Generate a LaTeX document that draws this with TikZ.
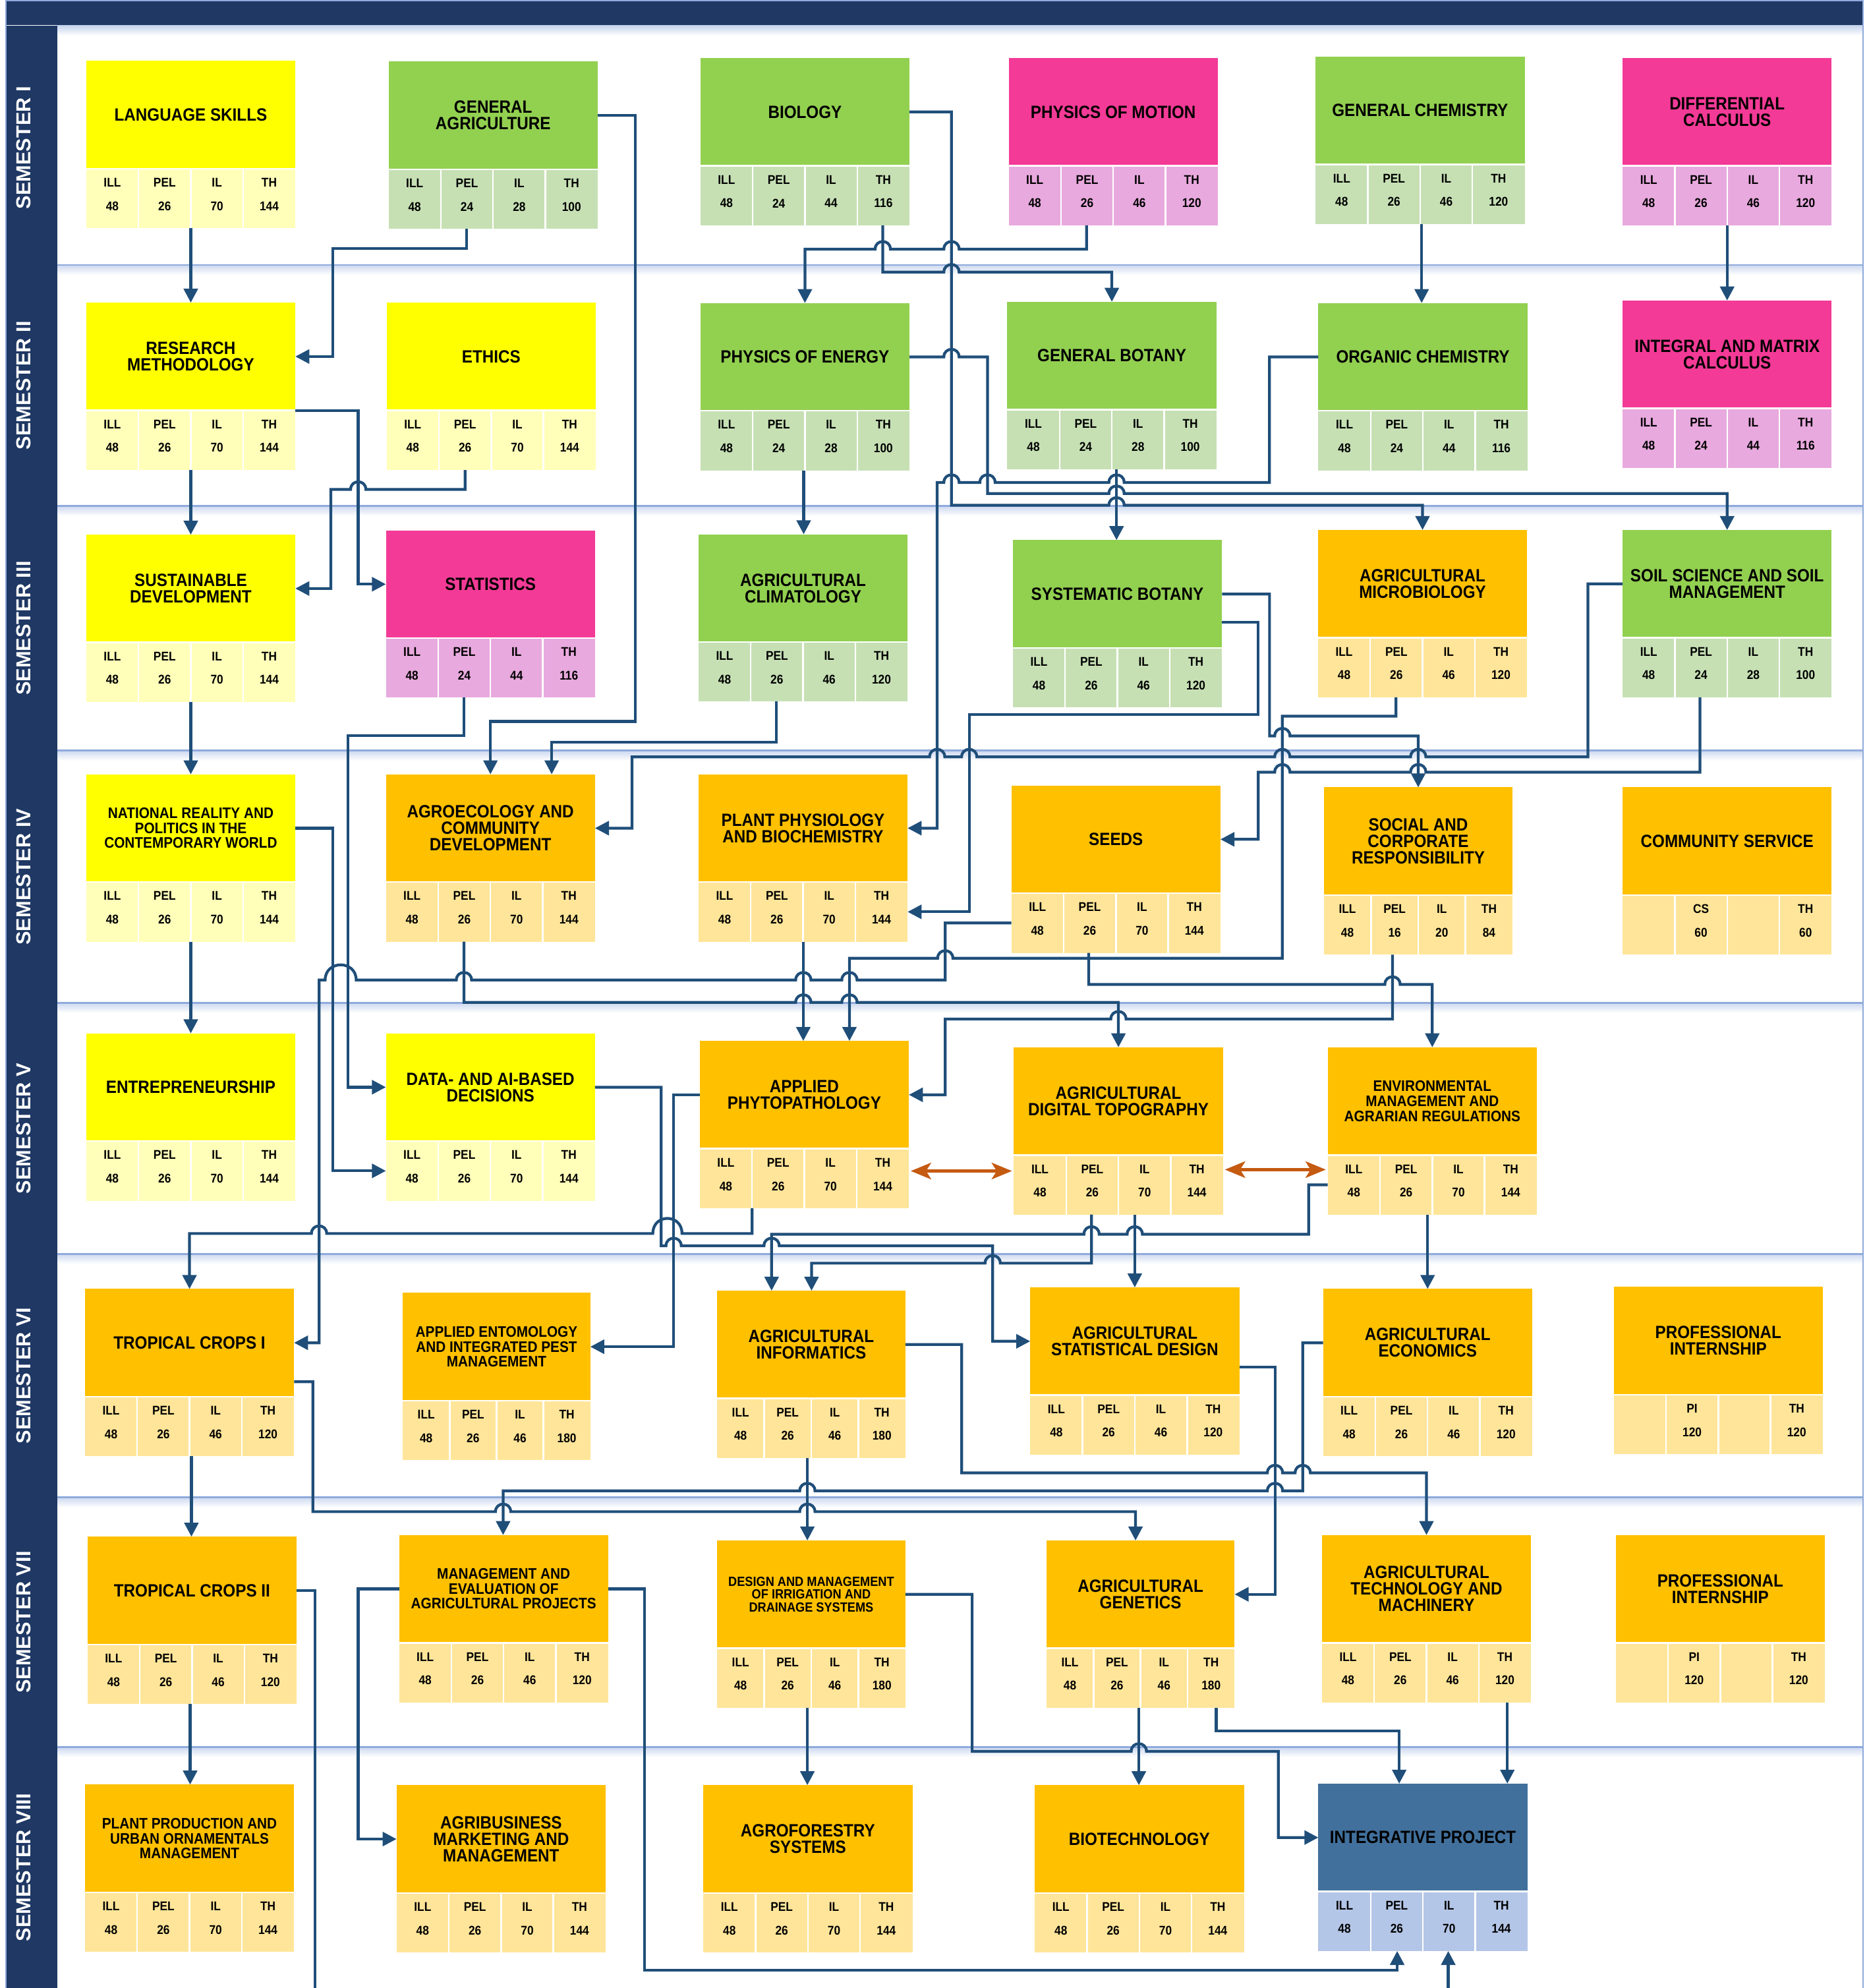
\documentclass[tikz,border=0pt]{standalone}
\usepackage{fontspec}
\setmainfont{Liberation Sans}[FakeStretch=0.9]
\newfontfamily\semfont{Liberation Sans}
\usetikzlibrary{arrows.meta,calc}
\definecolor{navy}{HTML}{1F3864}
\definecolor{lc}{HTML}{1F4E79}
\definecolor{orar}{HTML}{C55A11}
\definecolor{divl}{HTML}{8FAADC}
\definecolor{yT}{HTML}{FFFF00}\definecolor{yC}{HTML}{FFFFB9}
\definecolor{gT}{HTML}{92D050}\definecolor{gC}{HTML}{C6E0B4}
\definecolor{pT}{HTML}{F33A96}\definecolor{pC}{HTML}{E8A9DE}
\definecolor{oT}{HTML}{FFC000}\definecolor{oC}{HTML}{FFE599}
\definecolor{bT}{HTML}{41709C}\definecolor{bC}{HTML}{B4C6E7}
\newcommand\tfA{\bfseries\fontsize{14}{13}\selectfont}
\newcommand\tfB{\bfseries\fontsize{12}{11.7}\selectfont}
\newcommand\tfC{\bfseries\fontsize{10.5}{10.2}\selectfont}
\tikzset{
  ttl/.style={rectangle, inner sep=2pt, outer sep=0pt, minimum height=85pt, align=center, text=black},
  cellbg/.style={rectangle, inner sep=0pt, outer sep=0pt, minimum height=47pt},
  sepl/.style={draw=white, line width=1.3pt},
  clab/.style={inner sep=0pt, font=\bfseries\fontsize{10}{10}\selectfont, text=black},
  sem/.style={rotate=90, text=white, font=\semfont\bfseries\fontsize{16}{16}\selectfont},
  conn/.style={draw=lc, line width=2.2pt, -{Triangle[length=11pt,width=11pt]}},
  oconn/.style={draw=orar, line width=2.5pt, {Stealth[length=16pt,width=13pt,inset=4pt]}-{Stealth[length=16pt,width=13pt,inset=4pt]}, shorten <=1.5pt, shorten >=1.5pt}
}
% course box: name, x-left, y-top, width, scheme, font, title
\newcommand\course[7]{%
  \def\curbx{#2}\def\curby{#3}\def\curbw{#4}%
  \node[ttl, fill=#5T, minimum width=#4pt, anchor=north west, font=#6] (#1) at (#2,#3) {#7};
  \node[cellbg, fill=#5C, minimum width=#4pt, anchor=north west] (#1c) at (#1.south west) {};
  \draw[sepl] (#1c.north west) -- (#1c.north east);
  \foreach \k in {0.25,0.5,0.75} \draw[sepl] ($(#1c.north west)!\k!(#1c.north east)$) -- ($(#1c.south west)!\k!(#1c.south east)$);
}
\newcommand\celltx[4]{%
  \node[clab] (#1-l#2) at ({\curbx+\curbw*(2*#2-1)/8},{\curby+96}) {#3};
  \node[clab] (#1-v#2) at ({\curbx+\curbw*(2*#2-1)/8},{\curby+114.5}) {#4};}
\newcommand\cellsv[5]{\celltx{#1}{1}{ILL}{#2}\celltx{#1}{2}{PEL}{#3}\celltx{#1}{3}{IL}{#4}\celltx{#1}{4}{TH}{#5}}
\newcommand\cellsx[4]{\celltx{#1}{2}{#2}{#3}\celltx{#1}{4}{TH}{#4}}
% line hops (bump upward) on horizontal segments
\newcommand\hopR[2]{-- ({#1-6},#2) .. controls ({#1-6},{#2-8}) and ({#1+6},{#2-8}) .. ({#1+6},#2)}
\newcommand\hopL[2]{-- ({#1+6},#2) .. controls ({#1+6},{#2-8}) and ({#1-6},{#2-8}) .. ({#1-6},#2)}
\begin{document}
\begin{tikzpicture}[x=1pt,y=-1pt]
\useasboundingbox (0,0) rectangle (1474,1568);
\begin{scope}
\clip (0,0) rectangle (1474,1568);
\fill[white] (0,0) rectangle (1474,1568);
% frame
\shade[top color=divl!55, bottom color=white] (45,19.5) rectangle (1469,28);
\foreach \yy in {209,399,592,791,989,1181,1378} {
  \shade[top color=divl!45, bottom color=white] (45,\yy) rectangle (1469,\yy+8);
  \draw[divl, line width=1.5pt] (45,\yy) -- (1469,\yy);
}
\fill[navy] (5,1) rectangle (1469,19.5);
\fill[navy] (5,20.5) rectangle (45,1568);
\draw[divl, line width=1pt] (4.5,1568) -- (4.5,0.5) -- (1469.5,0.5) -- (1469.5,1568);
\node[sem] (sem1) at (18.5,116.5) {SEMESTER I};
\node[sem] (sem2) at (18.5,304) {SEMESTER II};
\node[sem] (sem3) at (18.5,495.5) {SEMESTER III};
\node[sem] (sem4) at (18.5,691.5) {SEMESTER IV};
\node[sem] (sem5) at (18.5,890) {SEMESTER V};
\node[sem] (sem6) at (18.5,1085) {SEMESTER VI};
\node[sem] (sem7) at (18.5,1279.5) {SEMESTER VII};
\node[sem] (sem8) at (18.5,1473) {SEMESTER VIII};
% ---- Semester I
\course{ls}{68}{48}{165}{y}{\tfA}{LANGUAGE SKILLS}\cellsv{ls}{48}{26}{70}{144}
\course{ga}{306.5}{48.6}{165}{g}{\tfA}{GENERAL\\AGRICULTURE}\cellsv{ga}{48}{24}{28}{100}
\course{bio}{552.5}{45.8}{165}{g}{\tfA}{BIOLOGY}\cellsv{bio}{48}{24}{44}{116}
\course{pom}{795.7}{45.8}{165}{p}{\tfA}{PHYSICS OF MOTION}\cellsv{pom}{48}{26}{46}{120}
\course{gch}{1037.8}{44.7}{165}{g}{\tfA}{GENERAL CHEMISTRY}\cellsv{gch}{48}{26}{46}{120}
\course{dc}{1280}{45.8}{165}{p}{\tfA}{DIFFERENTIAL\\CALCULUS}\cellsv{dc}{48}{26}{46}{120}
% ---- Semester II
\course{rm}{68}{238.7}{165}{y}{\tfA}{RESEARCH\\METHODOLOGY}\cellsv{rm}{48}{26}{70}{144}
\course{eth}{305}{238.7}{165}{y}{\tfA}{ETHICS}\cellsv{eth}{48}{26}{70}{144}
\course{poe}{552.5}{239}{165}{g}{\tfA}{PHYSICS OF ENERGY}\cellsv{poe}{48}{24}{28}{100}
\course{gb}{794.6}{238}{165}{g}{\tfA}{GENERAL BOTANY}\cellsv{gb}{48}{24}{28}{100}
\course{och}{1040}{239}{165}{g}{\tfA}{ORGANIC CHEMISTRY}\cellsv{och}{48}{24}{44}{116}
\course{imc}{1280}{237}{165}{p}{\tfA}{INTEGRAL AND MATRIX\\CALCULUS}\cellsv{imc}{48}{24}{44}{116}
% ---- Semester III
\course{sd}{68}{421.7}{165}{y}{\tfA}{SUSTAINABLE\\DEVELOPMENT}\cellsv{sd}{48}{26}{70}{144}
\course{stat}{304.4}{418.3}{165}{p}{\tfA}{STATISTICS}\cellsv{stat}{48}{24}{44}{116}
\course{acl}{551}{421.4}{165}{g}{\tfA}{AGRICULTURAL\\CLIMATOLOGY}\cellsv{acl}{48}{26}{46}{120}
\course{sb}{799}{426}{165}{g}{\tfA}{SYSTEMATIC BOTANY}\cellsv{sb}{48}{26}{46}{120}
\course{amb}{1039.7}{418}{165}{o}{\tfA}{AGRICULTURAL\\MICROBIOLOGY}\cellsv{amb}{48}{26}{46}{120}
\course{soil}{1280}{418}{165}{g}{\tfA}{SOIL SCIENCE AND SOIL\\MANAGEMENT}\cellsv{soil}{48}{24}{28}{100}
% ---- Semester IV
\course{nr}{68}{610.7}{165}{y}{\tfB}{NATIONAL REALITY AND\\POLITICS IN THE\\CONTEMPORARY WORLD}\cellsv{nr}{48}{26}{70}{144}
\course{agro}{304.4}{610.7}{165}{o}{\tfA}{AGROECOLOGY AND\\COMMUNITY\\DEVELOPMENT}\cellsv{agro}{48}{26}{70}{144}
\course{pp}{551}{610.7}{165}{o}{\tfA}{PLANT PHYSIOLOGY\\AND BIOCHEMISTRY}\cellsv{pp}{48}{26}{70}{144}
\course{seeds}{797.8}{619.5}{165}{o}{\tfA}{SEEDS}\cellsv{seeds}{48}{26}{70}{144}
\course{scr}{1044.3}{621}{149}{o}{\tfA}{SOCIAL AND\\CORPORATE\\RESPONSIBILITY}\cellsv{scr}{48}{16}{20}{84}
\course{cs}{1280}{621}{165}{o}{\tfA}{COMMUNITY SERVICE}\cellsx{cs}{CS}{60}{60}
% ---- Semester V
\course{ent}{68}{815}{165}{y}{\tfA}{ENTREPRENEURSHIP}\cellsv{ent}{48}{26}{70}{144}
\course{data}{304.4}{815}{165}{y}{\tfA}{DATA- AND AI-BASED\\DECISIONS}\cellsv{data}{48}{26}{70}{144}
\course{aph}{552}{821}{165}{o}{\tfA}{APPLIED\\PHYTOPATHOLOGY}\cellsv{aph}{48}{26}{70}{144}
\course{adt}{799.8}{826}{165}{o}{\tfA}{AGRICULTURAL\\DIGITAL TOPOGRAPHY}\cellsv{adt}{48}{26}{70}{144}
\course{env}{1047.4}{826}{165}{o}{\tfB}{ENVIRONMENTAL\\MANAGEMENT AND\\AGRARIAN REGULATIONS}\cellsv{env}{48}{26}{70}{144}
% ---- Semester VI
\course{tc1}{67}{1016.6}{165}{o}{\tfA}{TROPICAL CROPS I}\cellsv{tc1}{48}{26}{46}{120}
\course{aent}{317.7}{1019.7}{148}{o}{\tfB}{APPLIED ENTOMOLOGY\\AND INTEGRATED PEST\\MANAGEMENT}\cellsv{aent}{48}{26}{46}{180}
\course{ainf}{565.6}{1018}{148.7}{o}{\tfA}{AGRICULTURAL\\INFORMATICS}\cellsv{ainf}{48}{26}{46}{180}
\course{asd}{812.7}{1015.4}{165}{o}{\tfA}{AGRICULTURAL\\STATISTICAL DESIGN}\cellsv{asd}{48}{26}{46}{120}
\course{aec}{1043.7}{1016.6}{165}{o}{\tfA}{AGRICULTURAL\\ECONOMICS}\cellsv{aec}{48}{26}{46}{120}
\course{pi1}{1273}{1015}{165}{o}{\tfA}{PROFESSIONAL\\INTERNSHIP}\cellsx{pi1}{PI}{120}{120}
% ---- Semester VII
\course{tc2}{69}{1212}{165}{o}{\tfA}{TROPICAL CROPS II}\cellsv{tc2}{48}{26}{46}{120}
\course{mea}{314.8}{1210.7}{165}{o}{\tfB}{MANAGEMENT AND\\EVALUATION OF\\AGRICULTURAL PROJECTS}\cellsv{mea}{48}{26}{46}{120}
\course{dmi}{565.6}{1215}{148.7}{o}{\tfC}{DESIGN AND MANAGEMENT\\OF IRRIGATION AND\\DRAINAGE SYSTEMS}\cellsv{dmi}{48}{26}{46}{180}
\course{agen}{825.5}{1215}{148.5}{o}{\tfA}{AGRICULTURAL\\GENETICS}\cellsv{agen}{48}{26}{46}{180}
\course{atm}{1042.8}{1210.7}{165}{o}{\tfA}{AGRICULTURAL\\TECHNOLOGY AND\\MACHINERY}\cellsv{atm}{48}{26}{46}{120}
\course{pi2}{1274.6}{1210.7}{165}{o}{\tfA}{PROFESSIONAL\\INTERNSHIP}\cellsx{pi2}{PI}{120}{120}
% ---- Semester VIII
\course{ppu}{67}{1407.5}{165}{o}{\tfB}{PLANT PRODUCTION AND\\URBAN ORNAMENTALS\\MANAGEMENT}\cellsv{ppu}{48}{26}{70}{144}
\course{abm}{312.8}{1408}{165}{o}{\tfA}{AGRIBUSINESS\\MARKETING AND\\MANAGEMENT}\cellsv{abm}{48}{26}{70}{144}
\course{afs}{554.8}{1408}{165}{o}{\tfA}{AGROFORESTRY\\SYSTEMS}\cellsv{afs}{48}{26}{70}{144}
\course{bt}{816.3}{1408}{165}{o}{\tfA}{BIOTECHNOLOGY}\cellsv{bt}{48}{26}{70}{144}
\course{ip}{1040}{1406.8}{165}{b}{\tfA}{INTEGRATIVE PROJECT}\cellsv{ip}{48}{26}{70}{144}
% ================= connectors
\draw[conn] (lsc.south) -- (rm.north);
\draw[conn] (gac.south -| 368,0) |- (262.4,196) |- (rm.east);
\draw[conn] (ga.east) -| (501,569) -| (agro.north);
\draw[conn] (ethc.south -| 366.9,0) -- (366.9,386) \hopL{282.6}{386} -- (261,386) |- (sd.east);
\draw[conn] (rm.south east) -| (282.6,400) |- (stat.west);
\draw[conn] (rmc.south) -- (sd.north);
\draw[conn] (sdc.south) -- (nr.north);
\draw[conn] (nrc.south) -- (ent.north);
\draw[conn] (statc.south -| 366,0) |- (274.5,580) |- (data.west);
\draw[conn] (nr.east) -| (262.4,800) |- (datac.west);
\draw[conn] (seedsc.west) -| (745.7,773) \hopL{670.1}{773} \hopL{633.7}{773} \hopL{366}{773}
   -- (281,773) .. controls (281,757) and (256.5,757) .. (256.5,773) -- (251.7,773) |- (tc1.east);
\draw[conn] (agroc.south -| 366,0) -- (366,790.6) \hopR{633.7}{790.6} \hopR{670.1}{790.6} -| (adt.north);
\draw[conn] (scrc.south -| 1098.5,0) -- (1098.5,803.8) \hopL{882.3}{803.8} -| (745.7,840) |- (aph.east);
\draw[conn] (seedsc.south -| 858.8,0) -- (858.8,776.4) \hopR{1098.5}{776.4} -| (env.north);
\draw[conn] (ambc.south -| 1101.3,0) |- (1011.6,564.8) -- (1011.6,755.8) \hopL{745.7}{755.8} -| (aph.north -| 670.1,0);
\draw[conn] (ppc.south -| 633.7,0) -- (aph.north -| 633.7,0);
\draw[conn] (och.west) -| (1001.4,380.5) \hopL{880.8}{380.5} \hopL{779}{380.5} \hopL{750.6}{380.5} -- (739.3,380.5) |- (pp.east);
\draw[conn] (poe.east) \hopR{750.6}{281.5} -| (779,389.3) \hopR{880.8}{389.3} -| (soil.north);
\draw[conn] (bio.east) -| (750.6,398.5) \hopR{880.8}{398.5} -| (amb.north);
\draw[conn] (pomc.south -| 857.2,0) -- (857.2,196.5) \hopL{750.6}{196.5} \hopL{696.4}{196.5} -| (poe.north);
\draw[conn] (bioc.south -| 696.4,0) -- (696.4,214.6) \hopR{750.6}{214.6} -| (gb.north);
\draw[conn] (gchc.south -| 1121.5,0) -- (och.north -| 1121.5,0);
\draw[conn] (dcc.south) -- (imc.north);
\draw[conn] (poec.south -| 634,0) -- (acl.north -| 634,0);
\draw[conn] (gbc.south -| 880.8,0) -- (sb.north -| 880.8,0);
\draw[conn] (sb.east) -| (1001.5,580.5) \hopR{1011.6}{580.5} -| (scr.north);
\draw[conn] (sb.east |- 0,490.7) -| (992.6,563.4) -| (764.6,650) |- (ppc.east);
\draw[conn] (aclc.south -| 612.6,0) |- (435.2,585.5) -- (agro.north -| 435.2,0);
\draw[conn] (soil.west) -| (1252.7,597) \hopL{1118.8}{597} \hopL{1011.6}{597} \hopL{764.6}{597} \hopL{739.3}{597} -| (498.6,620) |- (agro.east);
\draw[conn] (soilc.south -| 1341.1,0) -- (1341.1,609) \hopL{1118.8}{609} \hopL{1011.6}{609} -| (992.6,640) |- (seeds.east);
\draw[conn] (aphc.south -| 593.3,0) -- (593.3,972.9) -- (538,972.9) .. controls (538,957) and (515,957) .. (515,972.9) \hopL{251.7}{972.9} -| (tc1.north);
\draw[conn] (data.east) -| (521.6,982.6) \hopR{531.4}{982.6} \hopR{608.7}{982.6} -| (783.1,1020) |- (asd.west);
\draw[conn] (aph.west) -| (531.4,1000) |- (aent.east);
\draw[conn] (envc.west) -| (1032.4,973.5) \hopL{895.2}{973.5} \hopL{861.1}{973.5} -| (ainf.north -| 608.7,0);
\draw[conn] (adtc.south -| 861.1,0) -- (861.1,996.3) \hopL{783.1}{996.3} -| (ainf.north -| 640.2,0);
\draw[conn] (adtc.south -| 895.2,0) -- (asd.north);
\draw[oconn] (aphc.east |- 0,923.6) -- (adtc.west |- 0,923.6);
\draw[oconn] (adtc.east |- 0,922.5) -- (envc.west |- 0,922.5);
\draw[conn] (envc.south -| 1126.2,0) -- (aec.north);
\draw[conn] (asd.east |- 0,1078.4) -| (1005.8,1200) |- (agen.east);
\draw[conn] (aec.west) -| (1027.7,1175.9) \hopL{1005.8}{1175.9} \hopL{636.9}{1175.9} -| (mea.north -| 396.9,0);
\draw[conn] (tc1.east |- 0,1089.8) -| (246.8,1192.3) \hopR{396.9}{1192.3} \hopR{636.9}{1192.3} -| (agen.north -| 895.8,0);
\draw[conn] (ainfc.south -| 636.9,0) -- (dmi.north -| 636.9,0);
\draw[conn] (ainf.east) -| (758.7,1161.7) \hopR{1005.8}{1161.7} \hopR{1027.7}{1161.7} -| (atm.north);
\draw[conn] (mea.east) -| (508.6,1553.9) -| (ipc.south -| 1102.2,0);
\draw[conn] (tc2.east) -| (248.5,1600) -| (ipc.south -| 1142.5,0);
\draw[conn] (mea.west) -| (282.6,1400) |- (abm.west);
\draw[conn] (tc2c.south -| 150,0) -- (ppu.north -| 150,0);
\draw[conn] (dmic.south -| 636.9,0) -- (afs.north -| 636.9,0);
\draw[conn] (dmi.east) -| (766.9,1381.3) \hopR{898.4}{1381.3} -| (1008.5,1420) |- (ip.west);
\draw[conn] (agenc.south -| 898.4,0) -- (bt.north -| 898.4,0);
\draw[conn] (agenc.south -| 959.5,0) |- (1103.8,1365.3) -- (ip.north -| 1103.8,0);
\draw[conn] (atmc.south -| 1189.1,0) -- (ip.north -| 1189.1,0);
\draw[conn] (tc1c.south -| 151,0) -- (tc2.north -| 151,0);
\end{scope}
\end{tikzpicture}
\end{document}
